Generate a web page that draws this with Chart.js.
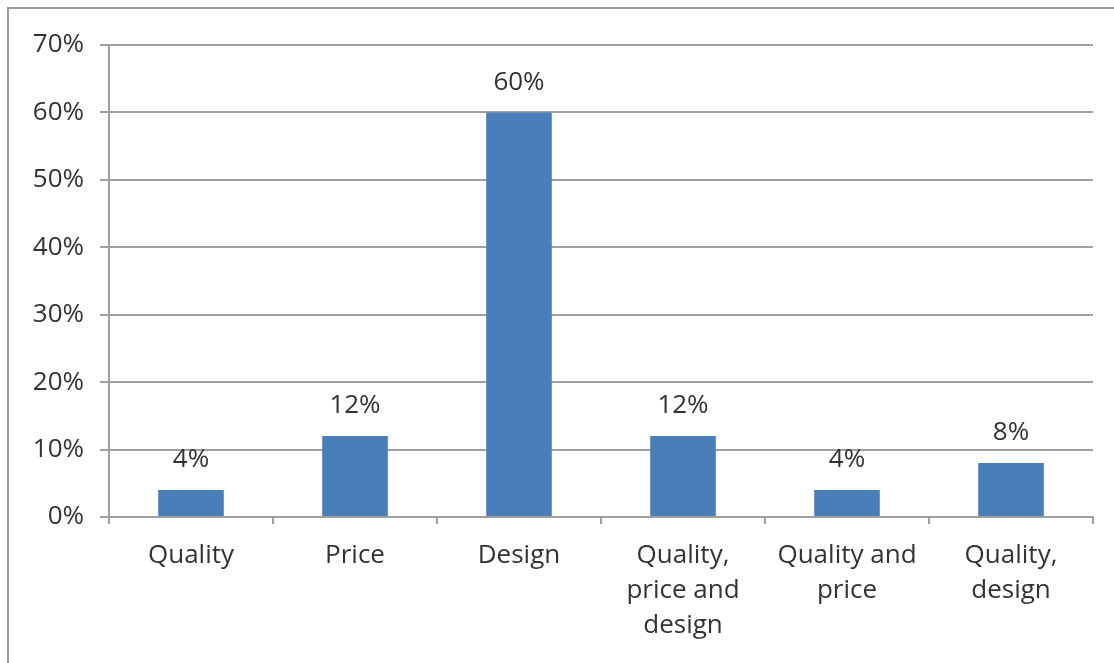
<!DOCTYPE html>
<html><head><meta charset="utf-8">
<script src="https://cdn.jsdelivr.net/npm/chart.js@4/dist/chart.umd.min.js"></script>
<style>
html,body{margin:0;padding:0;background:#fff;}
#wrap{position:absolute;left:0;top:0;width:1114px;height:663px;}
#frame{position:absolute;left:7px;top:7px;width:1200px;height:700px;border-left:2px solid #9a9a9a;border-top:2px solid #9a9a9a;}
canvas{position:absolute;left:0;top:0;}
</style></head>
<body><div id="wrap"><div id="frame"></div><canvas id="c" width="1114" height="663"></canvas></div>
<script>
const categories = [["Quality"],["Price"],["Design"],["Quality,","price and","design"],["Quality and","price"],["Quality,","design"]];
const values = [4, 12, 60, 12, 4, 8];
const yTicks = [0,10,20,30,40,50,60,70];
const FONT = "'Open Sans', Lato, sans-serif";
const TXT = '#333333';

const labelPlugin = {
  id:'barLabels',
  afterDatasetsDraw(chart){
    const ctx = chart.ctx;
    const meta = chart.getDatasetMeta(0);
    ctx.save();
    ctx.font = '26px ' + FONT;
    ctx.fillStyle = TXT;
    ctx.textAlign = 'center';
    ctx.textBaseline = 'middle';
    meta.data.forEach((bar,i)=>{
      ctx.fillText(values[i] + '%', bar.x, bar.y - 30);
    });
    ctx.restore();
  }
};

new Chart(document.getElementById('c'), {
  type:'bar',
  data:{labels:categories, datasets:[{data:values, backgroundColor:'#4a7ebb', borderWidth:0, categoryPercentage:1, barPercentage:0.4}]},
  options:{
    responsive:false, animation:false, devicePixelRatio:1,
    layout:{padding:{left:20, right:21, top:45, bottom:0}},
    plugins:{legend:{display:false}, tooltip:{enabled:false}},
    scales:{
      x:{
        grid:{offset:true, drawOnChartArea:false, drawTicks:true, tickLength:7, color:'#a0a0a0', lineWidth:2},
        border:{display:true, color:'#a0a0a0', width:2},
        ticks:{color:TXT, font:{family:FONT, size:26, lineHeight:1.35}, maxRotation:0, autoSkip:false, padding:14},
        afterFit(s){ s.height = 146; }
      },
      y:{
        min:0, max:70,
        afterBuildTicks(s){ s.ticks = yTicks.map(v=>({value:v})); },
        grid:{color:'#a0a0a0', lineWidth:2, tickLength:9},
        border:{display:true, color:'#a0a0a0', width:2},
        ticks:{color:TXT, font:{family:FONT, size:26}, padding:16, callback:v=>v+'%'},
        afterFit(s){ s.width = 89; }
      }
    }
  },
  plugins:[labelPlugin]
});
</script></body></html>
